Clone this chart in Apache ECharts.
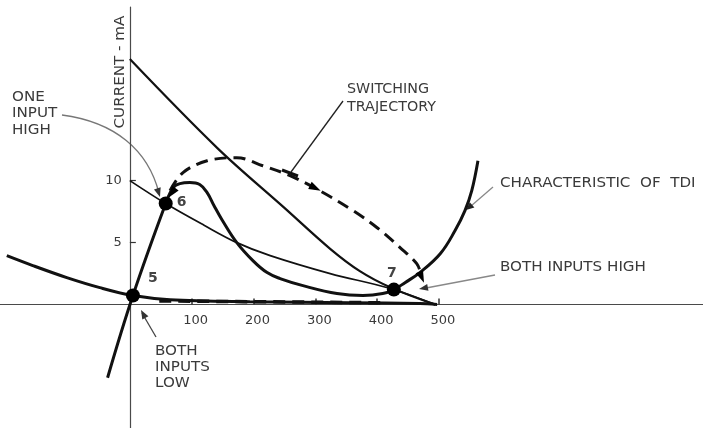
<!DOCTYPE html>
<html><head><meta charset="utf-8">
<script src="https://cdn.jsdelivr.net/npm/echarts@6/dist/echarts.min.js"></script>
<style>html,body{margin:0;padding:0;background:#fff}#c{width:703px;height:428px}</style>
</head><body><div id="c"></div>
<script>
// ---- data (x: mV, y: mA) ----
const xTickLabels = [100, 200, 300, 400, 500];
const yTickLabels = [5, 10];
const loadBothHigh = [[0,19.8],[142,12.6],[250,7.8],[324,4.5],[372,2.7],[421,1.4],[494,0]];
const loadOneHigh  = [[0,10],[58,8.15],[120,6.4],[173,5.0],[227,3.95],[324,2.5],[421,1.3],[494,0]];
const loadBothLow  = [[-199,3.95],[-157,3.15],[-102,2.18],[-48.5,1.37],[5,0.73],[65,0.4],[194,0.24],[356,0.16],[469,0.08],[497,0]];
const tdCharacteristic = [[-36,-5.9],[5,0.73],[58,8.15],[70,9.44],[81,9.76],[97,9.84],[113,9.68],[125,9.03],[136,8.0],[149,6.85],[173,5.0],[199,3.55],[222,2.58],[243,2.1],[280,1.53],[335,0.89],[377,0.73],[409,0.89],[427,1.21],[445,1.77],[469,2.58],[502,4.1],[526,5.97],[542,7.58],[553,9.19],[563,11.6]];
const switchUp = [[65,9.19],[86,10.65],[125,11.6],[173,11.85],[215,11.2],[259,10.4],[307,9.19],[361,7.58],[400,6.2],[437,4.6],[464,3.3],[472,2.3]];
const switchBack = [[405,0.15],[45,0.3]];
const opPoints = [[5,0.73,'5'],[58,8.15,'6'],[427,1.21,'7']];
const trajArrows = [[300,9.4,-116],[472,2.2,-157],[68,9.0,144]];

const INK = '#111';
const TXT = '#3a3a3a';
const FONT = 'DejaVu Sans';

const chart = echarts.init(document.getElementById('c'), null, {renderer:'canvas'});

function lineSeries(data, width, dashed, smooth) {
  return {
    type:'line', data, smooth: smooth === undefined ? 0.35 : smooth, showSymbol:false, silent:true,
    lineStyle:{color:INK, width, type: dashed ? [12,7] : 'solid', cap:'butt'},
    z: 3
  };
}

function arrowHead(x1, y1, x2, y2, len, half) {
  const a = Math.atan2(y2 - y1, x2 - x1);
  const bx = x2 - len*Math.cos(a), by = y2 - len*Math.sin(a);
  return [[x2,y2],[bx + half*Math.sin(a), by - half*Math.cos(a)],[bx - half*Math.sin(a), by + half*Math.cos(a)]];
}

const labelPos = [[27,-10],[23,6],[5,-9]];

const option = {
  backgroundColor:'#fff',
  animation:false,
  grid:{left:0, right:0, top:7, bottom:0, containLabel:false, outerBoundsMode:'none'},
  xAxis:{
    type:'value', min:-210, max:927,
    axisLine:{onZero:true, lineStyle:{color:'#4a4a4a', width:1.2}},
    axisTick:{show:true, inside:true, length:6, customValues:xTickLabels, lineStyle:{color:'#333', width:1.5}},
    axisLabel:{show:false},
    splitLine:{show:false}
  },
  yAxis:{
    type:'value', min:-9.95, max:24,
    axisLine:{onZero:true, lineStyle:{color:'#4a4a4a', width:1.2}},
    axisTick:{show:true, inside:true, length:6, customValues:yTickLabels, lineStyle:{color:'#333', width:1.2}},
    axisLabel:{show:false},
    splitLine:{show:false}
  },
  series:[
    lineSeries(loadBothHigh, 2.2),
    lineSeries(loadOneHigh, 1.7),
    lineSeries(loadBothLow, 3),
    lineSeries(tdCharacteristic, 3, false, 0.4),
    lineSeries(switchUp, 3, true),
    lineSeries(switchBack, 3.5, true, false),
    {
      type:'scatter',
      data:opPoints.map((p,i)=>({value:[p[0],p[1]], name:p[2], label:{position:labelPos[i]}})),
      symbolSize:14, itemStyle:{color:'#000', opacity:1}, z:5, silent:true,
      label:{show:true, formatter:p=>p.name, color:'#444', fontFamily:FONT, fontSize:14, fontWeight:'bold',
        align:'center', verticalAlign:'middle'}
    },
    {
      type:'scatter', data:trajArrows.map(p=>({value:[p[0],p[1]], symbolRotate:p[2]})),
      symbol:'triangle', symbolSize:[8,12], itemStyle:{color:'#000', opacity:1}, z:5, silent:true
    }
  ]
};
chart.setOption(option);

const SX = 1.12;
const txtStyle = (t, align, valign, extra) => Object.assign({
  text:t, fill:TXT, font:'13.5px "DejaVu Sans"', align:align, verticalAlign:valign,
  textAlign:align, textVerticalAlign:valign
}, extra||{});
const tickStyle = (t, align) => ({
  text:String(t), fill:TXT, font:'13px "DejaVu Sans"', align:align, verticalAlign:'middle',
  textAlign:align, textVerticalAlign:'middle'
});

const graphics = [
  {type:'text', x:120, y:72, rotation:Math.PI/2, scaleX:SX, style:txtStyle('CURRENT - mA','center','middle')},
  {type:'text', x:12, y:113.5, scaleX:SX, style:txtStyle('ONE\nINPUT\nHIGH','left','middle',{lineHeight:16.5})},
  {type:'text', x:155, y:367, scaleX:SX, style:txtStyle('BOTH\nINPUTS\nLOW','left','middle',{lineHeight:16})},
  {type:'text', x:347, y:98, scaleX:1.06, style:txtStyle('SWITCHING\nTRAJECTORY','left','middle',{lineHeight:18})},
  {type:'text', x:500, y:183, scaleX:SX, style:txtStyle('CHARACTERISTIC  OF  TDI','left','middle')},
  {type:'text', x:500, y:267, scaleX:SX, style:txtStyle('BOTH INPUTS HIGH','left','middle')},
  {type:'bezierCurve', shape:{x1:62,y1:115,cpx1:115,cpy1:122,cpx2:148,cpy2:150,x2:159,y2:193},
    style:{stroke:'#777', lineWidth:1.3, fill:null}},
  {type:'polygon', shape:{points:arrowHead(150,165,160,197,9,3.5)}, style:{fill:'#333'}},
  {type:'line', shape:{x1:156,y1:337,x2:142,y2:313}, style:{stroke:'#444', lineWidth:1.3}},
  {type:'polygon', shape:{points:arrowHead(156,337,141,310,9,3.5)}, style:{fill:'#333'}},
  {type:'line', shape:{x1:343,y1:101,x2:291,y2:172}, style:{stroke:'#222', lineWidth:1.3}},
  {type:'line', shape:{x1:282,y1:170,x2:298,y2:176}, style:{stroke:'#111', lineWidth:3}},
  {type:'line', shape:{x1:493,y1:187,x2:471,y2:206}, style:{stroke:'#888', lineWidth:1.3}},
  {type:'polygon', shape:{points:arrowHead(493,187,466,210,8,3.5)}, style:{fill:'#222'}},
  {type:'line', shape:{x1:495,y1:275,x2:426,y2:288}, style:{stroke:'#888', lineWidth:1.3}},
  {type:'polygon', shape:{points:arrowHead(495,275,419,289,9,3.5)}, style:{fill:'#333'}}
];
// tick labels placed through the axis scales
const x0py = chart.convertToPixel({yAxisIndex:0}, 0);
const y0px = chart.convertToPixel({xAxisIndex:0}, 0);
xTickLabels.forEach(v => {
  const px = chart.convertToPixel({xAxisIndex:0}, v);
  graphics.push({type:'text', x:px + 4, y:x0py + 16, style:tickStyle(v, 'center')});
});
yTickLabels.forEach(v => {
  const py = chart.convertToPixel({yAxisIndex:0}, v);
  graphics.push({type:'text', x:y0px - 8, y:py, style:tickStyle(v, 'right')});
});
chart.setOption({graphic:graphics});
</script></body></html>
